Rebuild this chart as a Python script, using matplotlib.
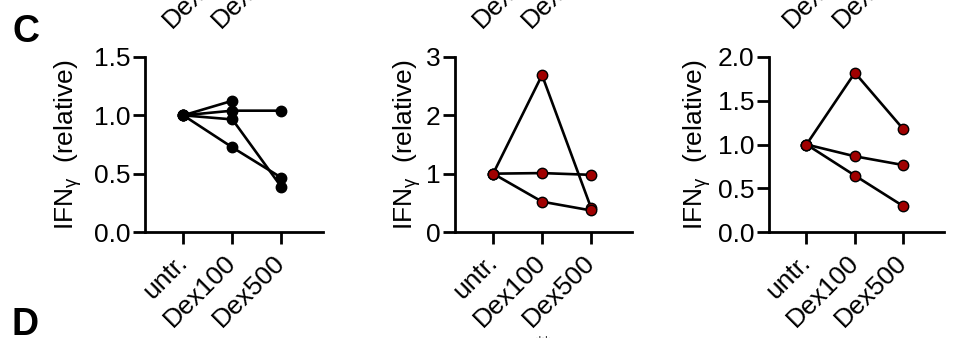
import numpy as np
import matplotlib
matplotlib.use("Agg")
import matplotlib.pyplot as plt

plt.rcParams['font.family'] = ['Liberation Sans', 'DejaVu Sans']
plt.rcParams['mathtext.fontset'] = 'custom'
plt.rcParams['mathtext.rm'] = 'Liberation Sans'
plt.rcParams['mathtext.it'] = 'Liberation Sans:italic'

categories = ["untr.", "Dex100", "Dex500"]

# Panel 1 (black), one row per donor; nan = no value
p1_values = [
    [1.0, 1.125, np.nan],
    [1.0, 1.04, 1.04],
    [1.0, 0.965, 0.385],
    [1.0, 0.725, 0.465],
]
p1_yticks = [0.0, 0.5, 1.0, 1.5]
p1_ticklabels = ["0.0", "0.5", "1.0", "1.5"]

# Panel 2 (red)
p2_values = [
    [1.0, 2.69, 0.42],
    [1.0, 1.01, 0.98],
    [1.0, 0.52, 0.37],
]
p2_yticks = [0, 1, 2, 3]
p2_ticklabels = ["0", "1", "2", "3"]

# Panel 3 (red)
p3_values = [
    [1.0, 1.82, 1.175],
    [1.0, 0.865, 0.765],
    [1.0, 0.645, 0.295],
]
p3_yticks = [0.0, 0.5, 1.0, 1.5, 2.0]
p3_ticklabels = ["0.0", "0.5", "1.0", "1.5", "2.0"]

ylabel = "IFN$_{\\mathregular{γ}}$  (relative)"
top_fragments = ["Dex100", "Dex500"]

W, H = 956, 338
fig = plt.figure(figsize=(W / 100, H / 100), dpi=100)

def px_rect(x0, x1, ytop, ybot):
    return [x0 / W, (H - ybot) / H, (x1 - x0) / W, (ybot - ytop) / H]

panels = [
    (px_rect(145, 322.7, 57, 232), p1_values, p1_yticks, p1_ticklabels, 'black', -0.345, [172, 221]),
    (px_rect(455, 632, 57, 232), p2_values, p2_yticks, p2_ticklabels, '#A00000', -0.183, [482, 531]),
    (px_rect(768.7, 944, 57, 232), p3_values, p3_yticks, p3_ticklabels, '#A00000', -0.318, [792, 842]),
]

FS = 19
xpos = np.arange(len(categories))
lw_axis = 2.0
for rect, vals, yt, ytl, mcol, lblx, frag_x in panels:
    ax = fig.add_axes(rect)
    for row in vals:
        ax.plot(xpos, row, color='black', lw=1.9, marker='o', ms=7.5,
                mfc=mcol, mec='black', mew=1.0, zorder=3, clip_on=False)
    ax.set_xlim(-0.78, 2.84)
    ax.set_ylim(yt[0], yt[-1])
    ax.set_yticks(yt)
    ax.set_yticklabels(ytl)
    ax.set_xticks(xpos)
    ax.set_xticklabels(categories)
    for s in ['top', 'right']:
        ax.spines[s].set_visible(False)
    for s in ['left', 'bottom']:
        ax.spines[s].set_linewidth(lw_axis)
    ax.tick_params(axis='both', width=lw_axis, length=8.5, labelsize=FS, pad=2)
    ax.tick_params(axis='x', pad=11)
    for lab in ax.get_xticklabels():
        lab.set_rotation(45)
        lab.set_ha('right')
        lab.set_va('center')
        lab.set_rotation_mode('anchor')
    ax.set_ylabel(ylabel, fontsize=FS)
    ax.yaxis.set_label_coords(lblx, 0.5)
    # clipped tick labels of the panel above
    for xs, t in zip(frag_x, top_fragments):
        fig.text(xs / W, (H - 29) / H, t, fontsize=FS, rotation=45,
                 rotation_mode='anchor', ha='left', va='baseline')

# panel letters
fig.text(12 / W, (H - 42) / H, "C", fontsize=27, fontweight='bold', ha='left', va='baseline')
fig.text(12 / W, (H - 335) / H, "D", fontsize=27, fontweight='bold', ha='left', va='baseline')

# clipped significance mark of the panel below
fig.text(543 / W, (H - 335) / H, "**", fontsize=14, ha='center', va='top', color='#444444')

fig.savefig("out.png", dpi=100)
